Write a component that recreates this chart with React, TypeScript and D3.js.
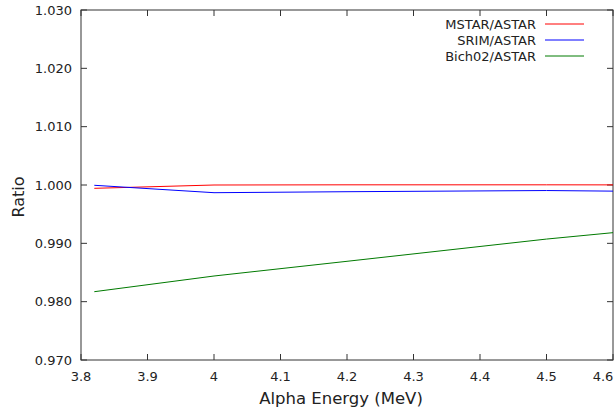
import React, { useEffect, useRef } from 'react';
import * as d3 from 'd3';

// alpha energy (MeV) at which the ratios were sampled
const energies = [3.82, 4.0, 4.2, 4.5, 4.6];
const mstarRatio = [0.99943, 1.0, 1.00003, 1.00003, 1.00002];
const srimRatio = [0.99995, 0.99868, 0.99885, 0.99905, 0.99895];
const bichRatio = [0.98171, 0.9844, 0.98692, 0.99073, 0.99183];

const seriesNames = ['MSTAR/ASTAR', 'SRIM/ASTAR', 'Bich02/ASTAR'];
const seriesColors = ['#ff0000', '#0000ff', '#007a00'];
const xTicks = [3.8, 3.9, 4.0, 4.1, 4.2, 4.3, 4.4, 4.5, 4.6];
const yTicks = [0.97, 0.98, 0.99, 1.0, 1.01, 1.02, 1.03];

const App = () => {
  const ref = useRef<SVGSVGElement>(null);

  useEffect(() => {
    const W = 615;
    const H = 409;
    const margin = { top: 10, right: 2, bottom: 49, left: 81 };
    const width = W - margin.left - margin.right;
    const height = H - margin.top - margin.bottom;
    const font = 'DejaVu Sans, sans-serif';
    const axisColor = '#333';

    const root = d3.select(ref.current);
    root.selectAll('*').remove();
    root.attr('width', W).attr('height', H);

    const svg = root.append('g')
      .attr('transform', `translate(${margin.left},${margin.top})`);

    const x = d3.scaleLinear().domain([3.8, 4.6]).range([0, width]);
    const y = d3.scaleLinear().domain([0.97, 1.03]).range([height, 0]);

    const tickLen = 6;

    // frame
    svg.append('rect')
      .attr('x', 0).attr('y', 0)
      .attr('width', width).attr('height', height)
      .attr('fill', 'none')
      .attr('stroke', axisColor)
      .attr('stroke-width', 1);

    // x ticks, mirrored on top
    xTicks.forEach(t => {
      svg.append('line')
        .attr('x1', x(t)).attr('x2', x(t))
        .attr('y1', height).attr('y2', height - tickLen)
        .attr('stroke', axisColor);
      svg.append('line')
        .attr('x1', x(t)).attr('x2', x(t))
        .attr('y1', 0).attr('y2', tickLen)
        .attr('stroke', axisColor);
      // keep the last label inside the canvas
      const lx = Math.min(x(t), W - margin.left - 12);
      svg.append('text')
        .attr('x', lx)
        .attr('y', height + 21)
        .attr('text-anchor', 'middle')
        .attr('font-family', font)
        .attr('font-size', 13)
        .attr('fill', '#222')
        .text(d3.format('')(+t.toFixed(1)));
    });

    // y ticks, mirrored on right
    yTicks.forEach(t => {
      svg.append('line')
        .attr('x1', 0).attr('x2', tickLen)
        .attr('y1', y(t)).attr('y2', y(t))
        .attr('stroke', axisColor);
      svg.append('line')
        .attr('x1', width).attr('x2', width - tickLen)
        .attr('y1', y(t)).attr('y2', y(t))
        .attr('stroke', axisColor);
      svg.append('text')
        .attr('x', -9)
        .attr('y', y(t))
        .attr('dy', '0.35em')
        .attr('text-anchor', 'end')
        .attr('font-family', font)
        .attr('font-size', 13)
        .attr('fill', '#222')
        .text(d3.format('.3f')(t));
    });

    // axis titles
    svg.append('text')
      .attr('x', width / 2 - 6)
      .attr('y', height + 44)
      .attr('text-anchor', 'middle')
      .attr('font-family', font)
      .attr('font-size', 16.5)
      .attr('fill', '#222')
      .text('Alpha Energy (MeV)');

    svg.append('text')
      .attr('transform', `translate(${-57},${height / 2 + 12}) rotate(-90)`)
      .attr('text-anchor', 'middle')
      .attr('font-family', font)
      .attr('font-size', 16)
      .attr('fill', '#222')
      .text('Ratio');

    // lines
    const line = d3.line<[number, number]>()
      .x(d => x(d[0]))
      .y(d => y(d[1]));

    [mstarRatio, srimRatio, bichRatio].forEach((vals, i) => {
      svg.append('path')
        .datum(energies.map((e, j) => [e, vals[j]] as [number, number]))
        .attr('d', line)
        .attr('fill', 'none')
        .attr('stroke', seriesColors[i])
        .attr('stroke-width', 1);
    });

    // legend
    const legend = svg.append('g')
      .attr('transform', `translate(${width - 77},${14})`);
    seriesNames.forEach((name, i) => {
      legend.append('text')
        .attr('x', 0)
        .attr('y', i * 16)
        .attr('dy', '0.35em')
        .attr('text-anchor', 'end')
        .attr('font-family', font)
        .attr('font-size', 13)
        .attr('fill', '#222')
        .text(name);
      legend.append('line')
        .attr('x1', 9).attr('x2', 48)
        .attr('y1', i * 16).attr('y2', i * 16)
        .attr('stroke', seriesColors[i])
        .attr('stroke-width', 1);
    });
  }, []);

  return (
    <div style={{ position: 'absolute', left: 0, top: 0 }}>
      <svg ref={ref}></svg>
    </div>
  );
};

export default App;
